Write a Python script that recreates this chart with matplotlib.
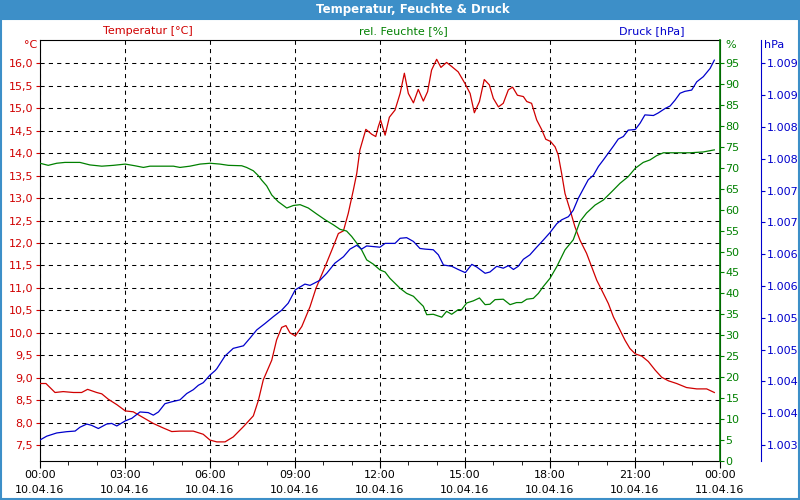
import matplotlib
matplotlib.use("Agg")
import matplotlib.pyplot as plt
from matplotlib.patches import Rectangle
from matplotlib.ticker import FuncFormatter, MultipleLocator, FixedLocator

# hours since 10.04.16 00:00
temp_h = [0, 0.21, 0.53, 0.82, 1.18, 1.47, 1.68, 2.0, 2.18, 2.41, 2.71, 3.01, 3.29, 3.59, 4.0,
          4.35, 4.65, 4.94, 5.41, 5.76, 6.0, 6.24, 6.53, 6.82, 7.18, 7.53, 7.71, 7.88, 8.18,
          8.35, 8.53, 8.68, 8.82, 9.01, 9.24, 9.53, 9.74, 10.06, 10.35, 10.53, 10.71, 10.88,
          11.06, 11.18, 11.29, 11.5, 11.71, 11.85, 11.94, 12.02, 12.18, 12.33, 12.53, 12.71,
          12.86, 13.0, 13.18, 13.35, 13.53, 13.68, 13.82, 14.0, 14.15, 14.35, 14.53, 14.76,
          15.0, 15.18, 15.33, 15.51, 15.68, 15.86, 16.0, 16.18, 16.35, 16.53, 16.68, 16.85,
          17.06, 17.18, 17.35, 17.53, 17.71, 17.85, 18.02, 18.18, 18.29, 18.41, 18.53, 18.71,
          18.88, 19.06, 19.29, 19.47, 19.65, 19.88, 20.06, 20.24, 20.47, 20.65, 20.82, 21.01,
          21.24, 21.47, 21.71, 21.94, 22.18, 22.47, 22.82, 23.18, 23.53, 23.8]
temp_c = [8.87, 8.87, 8.67, 8.69, 8.67, 8.67, 8.74, 8.67, 8.64, 8.52, 8.40, 8.26, 8.24, 8.13, 7.98,
          7.88, 7.80, 7.81, 7.81, 7.74, 7.61, 7.57, 7.57, 7.68, 7.91, 8.15, 8.50, 8.95, 9.39,
          9.84, 10.12, 10.16, 10.0, 9.93, 10.14, 10.58, 10.99, 11.47, 11.92, 12.21, 12.27, 12.66,
          13.18, 13.55, 14.07, 14.53, 14.42, 14.37, 14.59, 14.74, 14.40, 14.80, 14.96, 15.33,
          15.78, 15.33, 15.12, 15.42, 15.16, 15.37, 15.85, 16.09, 15.91, 16.02, 15.93, 15.81,
          15.55, 15.33, 14.90, 15.15, 15.64, 15.52, 15.22, 15.03, 15.11, 15.41, 15.47, 15.29,
          15.26, 15.15, 15.11, 14.74, 14.52, 14.31, 14.26, 14.14, 13.96, 13.55, 13.10, 12.73,
          12.36, 12.06, 11.77, 11.47, 11.17, 10.88, 10.65, 10.35, 10.06, 9.83, 9.65, 9.53,
          9.48, 9.36, 9.17, 9.01, 8.93, 8.87, 8.78, 8.75, 8.75, 8.67]

hum_h = [0, 0.29, 0.59, 0.88, 1.41, 1.76, 2.18, 2.59, 3.01, 3.35, 3.65, 3.88, 4.71, 4.94, 5.29,
         5.65, 6.0, 6.35, 6.65, 7.12, 7.29, 7.53, 7.71, 7.82, 8.0, 8.18, 8.41, 8.71, 8.94, 9.18,
         9.47, 9.76, 10.06, 10.35, 10.59, 10.82, 11.0, 11.18, 11.35, 11.53, 11.76, 12.0, 12.18,
         12.35, 12.53, 12.71, 12.94, 13.18, 13.35, 13.53, 13.65, 13.88, 14.18, 14.35, 14.53,
         14.76, 14.88, 15.06, 15.29, 15.51, 15.71, 15.88, 16.06, 16.35, 16.59, 16.82, 17.0,
         17.18, 17.41, 17.59, 17.76, 18.0, 18.24, 18.53, 18.82, 19.06, 19.29, 19.59, 19.88,
         20.18, 20.47, 20.76, 21.01, 21.29, 21.53, 21.76, 22.0, 22.47, 22.94, 23.41, 23.8]
hum_pct = [71.1, 70.6, 71.1, 71.3, 71.3, 70.7, 70.4, 70.6, 70.9, 70.5, 70.1, 70.4, 70.4, 70.1, 70.4,
           70.9, 71.1, 70.9, 70.6, 70.5, 70.1, 69.3, 68.1, 67.1, 65.7, 63.5, 61.9, 60.4, 61.0, 61.2,
           60.4, 59.0, 57.6, 56.4, 55.3, 54.9, 53.6, 52.0, 50.4, 48.0, 47.0, 45.6, 45.1,
           43.6, 42.4, 41.2, 40.0, 39.3, 38.1, 36.9, 34.9, 35.0, 34.3, 35.7, 35.0,
           36.1, 36.1, 37.7, 38.2, 38.9, 37.3, 37.4, 38.5, 38.6, 37.3, 37.8, 37.8,
           38.6, 38.8, 40.0, 41.6, 43.6, 46.4, 50.4, 52.8, 57.2, 59.2, 61.1, 62.3,
           64.3, 66.3, 67.9, 69.9, 71.3, 71.9, 72.9, 73.6, 73.6, 73.6, 73.8, 74.3]

pres_h = [0, 0.24, 0.59, 0.94, 1.24, 1.41, 1.65, 1.82, 2.06, 2.35, 2.53, 2.71, 3.01, 3.24, 3.53,
          3.82, 4.0, 4.18, 4.41, 4.65, 4.94, 5.18, 5.41, 5.59, 5.76, 6.0, 6.18, 6.24, 6.53, 6.82,
          7.18, 7.41, 7.65, 7.94, 8.24, 8.53, 8.76, 9.01, 9.35, 9.53, 9.88, 10.12, 10.41, 10.71,
          10.94, 11.18, 11.35, 11.53, 11.76, 12.0, 12.18, 12.53, 12.71, 12.94, 13.18, 13.41,
          13.59, 13.88, 14.06, 14.24, 14.53, 14.76, 15.01, 15.24, 15.41, 15.71, 15.88, 16.12,
          16.35, 16.53, 16.71, 16.88, 17.06, 17.29, 17.53, 17.76, 18.0, 18.24, 18.41, 18.65,
          18.82, 19.0, 19.18, 19.35, 19.53, 19.71, 19.88, 20.06, 20.24, 20.41, 20.59, 20.76,
          21.01, 21.18, 21.35, 21.65, 21.82, 22.06, 22.24, 22.41, 22.59, 22.76, 23.0, 23.18,
          23.41, 23.65, 23.8]
pres_hpa = [1003.08, 1003.14, 1003.19, 1003.21, 1003.22, 1003.28, 1003.33, 1003.31, 1003.26,
            1003.33, 1003.34, 1003.30, 1003.38, 1003.42, 1003.52, 1003.51, 1003.47, 1003.52,
            1003.65, 1003.68, 1003.71, 1003.81, 1003.87, 1003.94, 1003.98, 1004.10, 1004.17,
            1004.20, 1004.40, 1004.52, 1004.56, 1004.68, 1004.81, 1004.91, 1005.02, 1005.12,
            1005.23, 1005.44, 1005.53, 1005.51, 1005.59, 1005.70, 1005.86, 1005.96, 1006.08,
            1006.14, 1006.08, 1006.13, 1006.12, 1006.11, 1006.17, 1006.17, 1006.25, 1006.26,
            1006.20, 1006.09, 1006.08, 1006.07, 1005.99, 1005.83, 1005.81, 1005.76, 1005.71,
            1005.84, 1005.80, 1005.70, 1005.72, 1005.81, 1005.78, 1005.82, 1005.76, 1005.81,
            1005.92, 1005.99, 1006.11, 1006.22, 1006.34, 1006.48, 1006.54, 1006.59, 1006.69,
            1006.88, 1007.03, 1007.17, 1007.24, 1007.38, 1007.48, 1007.59, 1007.70, 1007.81,
            1007.85, 1007.95, 1007.96, 1008.06, 1008.19, 1008.18, 1008.22, 1008.29, 1008.33,
            1008.42, 1008.53, 1008.56, 1008.58, 1008.71, 1008.79, 1008.92, 1009.05]

tick_hours = [0, 3, 6, 9, 12, 15, 18, 21, 24]
tick_times = ["00:00", "03:00", "06:00", "09:00", "12:00", "15:00", "18:00", "21:00", "00:00"]
tick_dates = ["10.04.16"] * 8 + ["11.04.16"]

RED = "#d00000"
GREEN = "#008000"
BLUE = "#0000cc"
FRAME = "#3d8fc8"

plt.rcParams["font.family"] = "DejaVu Sans"
plt.rcParams["font.size"] = 8

fig = plt.figure(figsize=(8, 5), dpi=100)
fig.patch.set_facecolor("white")

# title bar and window frame
fig.patches.append(Rectangle((0, 1 - 20 / 500), 1, 20 / 500, transform=fig.transFigure,
                             facecolor=FRAME, edgecolor="none"))
fig.patches.append(Rectangle((0.001, 0.002), 0.998, 1 - 20 / 500, transform=fig.transFigure,
                             facecolor="none", edgecolor=FRAME, lw=1.5))
fig.text(413 / 800, 1 - 10 / 500, "Temperatur, Feuchte & Druck", color="white",
         fontweight="bold", fontsize=8.5, ha="center", va="center")

ax = fig.add_axes([40 / 800, 39.3 / 500, 680 / 800, 420.7 / 500])
ax_h = ax.twinx()
ax_p = ax.twinx()

ax.plot(temp_h, temp_c, color=RED, lw=0.9, zorder=3)
ax_h.plot(hum_h, hum_pct, color=GREEN, lw=0.9)
ax_p.plot(pres_h, pres_hpa, color=BLUE, lw=0.9)

ax.set_xlim(0, 24)
ax.set_ylim(7.151, 16.52)
ax_h.set_ylim(0, 100.56)
ax_p.set_ylim(1002.754, 1009.367)

ax.set_xticks(tick_hours)
ax.set_xticklabels([t + "\n" + d for t, d in zip(tick_times, tick_dates)], linespacing=1.6)
ax.xaxis.set_minor_locator(MultipleLocator(1))
ax.tick_params(axis="x", which="major", length=5, pad=2, colors="black")
ax.tick_params(axis="x", which="minor", length=3)

ax.yaxis.set_major_locator(FixedLocator([7.5 + 0.5 * i for i in range(18)]))
ax.yaxis.set_major_formatter(FuncFormatter(lambda v, p: f"{v:.1f}".replace(".", ",")))
ax.tick_params(axis="y", length=3, pad=2, colors=RED)

ax.grid(True, which="major", color="black", linestyle=(0, (4, 4)), linewidth=0.75)

ax_h.yaxis.set_major_locator(FixedLocator([5 * i for i in range(20)]))
ax_h.tick_params(axis="y", length=3, pad=1, colors=GREEN)
ax_h.spines["right"].set_color(GREEN)
ax_h.spines["right"].set_linewidth(1.2)

# 41 px outward = 29.5 pt
ax_p.spines["right"].set_position(("outward", 29.5))
ax_p.spines["right"].set_color(BLUE)
ax_p.yaxis.set_major_locator(FixedLocator([1003 + 0.5 * i for i in range(13)]))
ax_p.yaxis.set_major_formatter(
    FuncFormatter(lambda v, p: "{:,}".format(int(v + 0.5)).replace(",", ".")))
ax_p.tick_params(axis="y", length=3, pad=1, colors=BLUE)

for a in (ax_h, ax_p):
    for s in ("left", "top", "bottom"):
        a.spines[s].set_visible(False)

# unit and series captions
fig.text(37 / 800, 1 - 45 / 500, "°C", color=RED, ha="right", va="center")
fig.text(725 / 800, 1 - 45 / 500, "%", color=GREEN, ha="left", va="center")
fig.text(764 / 800, 1 - 45 / 500, "hPa", color=BLUE, ha="left", va="center")
fig.text(148 / 800, 1 - 31 / 500, "Temperatur [°C]", color=RED, ha="center", va="center")
fig.text(403 / 800, 1 - 31 / 500, "rel. Feuchte [%]", color=GREEN, ha="center", va="center")
fig.text(652 / 800, 1 - 31 / 500, "Druck [hPa]", color=BLUE, ha="center", va="center")

fig.savefig("out.png", dpi=100)
